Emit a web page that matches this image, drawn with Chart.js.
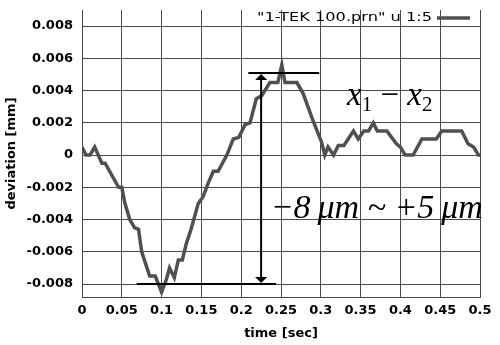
<!DOCTYPE html>
<html>
<head>
<meta charset="utf-8">
<script src="https://cdn.jsdelivr.net/npm/chart.js@4"></script>
<style>
  html, body { margin: 0; padding: 0; background: #fff; }
  #wrap { width: 500px; height: 345px; }
</style>
</head>
<body>
<div id="wrap"><canvas id="c" width="500" height="345"></canvas></div>
<script>
// time [sec] and deviation [mm]
const times = [0, 0.005, 0.01, 0.016, 0.025, 0.029, 0.046, 0.05, 0.054, 0.06, 0.066, 0.071, 0.075, 0.085, 0.092,
    0.1, 0.106, 0.11, 0.116, 0.121, 0.126, 0.131, 0.137, 0.146, 0.152, 0.158, 0.165, 0.171, 0.182, 0.19, 0.197,
    0.205, 0.211, 0.219, 0.226, 0.236, 0.246, 0.251, 0.255, 0.27, 0.278, 0.289, 0.301, 0.305, 0.309, 0.316,
    0.322, 0.329, 0.341, 0.347, 0.354, 0.36, 0.366, 0.371, 0.383, 0.395, 0.4, 0.406, 0.416, 0.427, 0.445,
    0.452, 0.477, 0.485, 0.492, 0.498, 0.5]
const deviation = [0.0005, 0, 0, 0.0005, -0.0005, -0.0005, -0.002, -0.002, -0.003, -0.004, -0.0045, -0.0046, -0.006, -0.0075, -0.0075,
    -0.0085, -0.0077, -0.007, -0.0076, -0.0065, -0.0065, -0.0055, -0.0046, -0.003, -0.0026, -0.0018, -0.001, -0.001, 0, 0.001, 0.0011,
    0.0019, 0.002, 0.0035, 0.0037, 0.0045, 0.0045, 0.0056, 0.0045, 0.0045, 0.0038, 0.0023, 0.0008, 0, 0.0005, 0,
    0.0006, 0.0006, 0.0015, 0.001, 0.0015, 0.0015, 0.002, 0.0015, 0.0015, 0.0007, 0.0005, 0, 0, 0.001, 0.001,
    0.0015, 0.0015, 0.0007, 0.0005, 0, 0]

const xTicks = [0, 0.05, 0.1, 0.15, 0.2, 0.25, 0.3, 0.35, 0.4, 0.45, 0.5]
const yTicks = [0.008, 0.006, 0.004, 0.002, 0, -0.002, -0.004, -0.006, -0.008]

const seriesLabel = '"1-TEK 100.prn" u 1:5'

// annotation anchors in data units
const lowLevel = -0.008
const highLevel = 0.0051
const lowSpan = [0.0687, 0.2437]
const highSpan = [0.209, 0.298]
const arrowX = 0.225
const diffLabelAt = [0.333, 0.0031]
const rangeLabelAt = [0.237, -0.0039]

const lineColor = '#505050'
const gridColor = '#4a4a4a'
const tickFont = {family: 'DejaVu Sans', size: 13, weight: 'bold'}

const annotations = {
    id: 'annotations',
    afterDatasetsDraw(chart) {
        const {ctx, scales: {x, y}} = chart
        ctx.save()
        ctx.strokeStyle = '#000'
        ctx.fillStyle = '#000'
        ctx.lineWidth = 2

        const yl = y.getPixelForValue(lowLevel)
        const yh = y.getPixelForValue(highLevel)
        ctx.beginPath()
        ctx.moveTo(x.getPixelForValue(lowSpan[0]), yl)
        ctx.lineTo(x.getPixelForValue(lowSpan[1]), yl)
        ctx.moveTo(x.getPixelForValue(highSpan[0]), yh)
        ctx.lineTo(x.getPixelForValue(highSpan[1]), yh)
        ctx.stroke()

        // double arrow
        const ax = x.getPixelForValue(arrowX)
        ctx.beginPath()
        ctx.moveTo(ax, yh + 4)
        ctx.lineTo(ax, yl - 4)
        ctx.stroke()
        ctx.beginPath()
        ctx.moveTo(ax, yh + 1)
        ctx.lineTo(ax - 6, yh + 7)
        ctx.lineTo(ax + 6, yh + 7)
        ctx.closePath()
        ctx.fill()
        ctx.beginPath()
        ctx.moveTo(ax, yl - 1)
        ctx.lineTo(ax - 6, yl - 7)
        ctx.lineTo(ax + 6, yl - 7)
        ctx.closePath()
        ctx.fill()

        // x1 - x2
        let tx = x.getPixelForValue(diffLabelAt[0])
        const ty = y.getPixelForValue(diffLabelAt[1])
        ctx.textBaseline = 'alphabetic'
        ctx.textAlign = 'left'
        const parts = [
            ['italic 33px "Liberation Serif"', 'x', 0],
            ['21px "Liberation Serif"', '1', 6],
            ['33px "Liberation Serif"', ' \u2212 ', 0],
            ['italic 33px "Liberation Serif"', 'x', 0],
            ['21px "Liberation Serif"', '2', 6]
        ]
        for (const [font, s, dy] of parts) {
            ctx.font = font
            ctx.fillText(s, tx, ty + dy)
            tx += ctx.measureText(s).width
        }

        ctx.font = 'italic 34px "Liberation Serif"'
        ctx.fillText('\u22128\u2009\u03BCm ~ +5\u2009\u03BCm', x.getPixelForValue(rangeLabelAt[0]), y.getPixelForValue(rangeLabelAt[1]))

        // key, top right inside the frame
        const area = chart.chartArea
        ctx.font = '13px "DejaVu Sans"'
        ctx.textAlign = 'right'
        ctx.textBaseline = 'middle'
        const w = ctx.measureText(seriesLabel).width
        const sx = 175 / w
        ctx.save()
        ctx.translate(area.right - 48, area.top + 8)
        ctx.scale(sx, 1)
        ctx.fillText(seriesLabel, 0, 0)
        ctx.restore()
        ctx.strokeStyle = lineColor
        ctx.lineWidth = 3.5
        ctx.beginPath()
        ctx.moveTo(area.right - 43, area.top + 8)
        ctx.lineTo(area.right - 10, area.top + 8)
        ctx.stroke()
        ctx.restore()
    }
}

new Chart(document.getElementById('c'), {
    type: 'line',
    data: {
        datasets: [{
            label: seriesLabel,
            data: times.map((t, i) => ({x: t, y: deviation[i]})),
            borderColor: lineColor,
            borderWidth: 3.5,
            pointRadius: 0,
            tension: 0,
            fill: false
        }]
    },
    options: {
        responsive: false,
        devicePixelRatio: 1,
        animation: false,
        layout: {padding: {top: 10, right: 20, left: 0, bottom: 0}},
        plugins: {legend: {display: false}, tooltip: {enabled: false}},
        scales: {
            x: {
                type: 'linear',
                min: 0,
                max: 0.5,
                afterBuildTicks: s => { s.ticks = xTicks.map(v => ({value: v})) },
                afterFit: s => { s.height = 48 },
                ticks: {
                    font: tickFont,
                    color: '#000',
                    padding: 6,
                    callback: v => String(parseFloat(v.toFixed(2)))
                },
                grid: {color: gridColor, drawTicks: false},
                border: {color: gridColor},
                title: {display: true, text: 'time [sec]', font: tickFont, color: '#000', padding: {top: 2, bottom: 4}}
            },
            y: {
                type: 'linear',
                min: -0.0088,
                max: 0.009,
                afterBuildTicks: s => { s.ticks = yTicks.map(v => ({value: v})) },
                afterFit: s => { s.width = 82; s.paddingTop = 0; s.paddingBottom = 0 },
                ticks: {
                    font: tickFont,
                    color: '#000',
                    padding: 9,
                    callback: v => v === 0 ? '0' : v.toFixed(3)
                },
                grid: {color: gridColor, drawTicks: false},
                border: {color: gridColor},
                title: {display: true, text: 'deviation [mm]', font: tickFont, color: '#000', padding: {top: 4, bottom: 0}}
            }
        }
    },
    plugins: [annotations]
})
</script>
</body>
</html>
